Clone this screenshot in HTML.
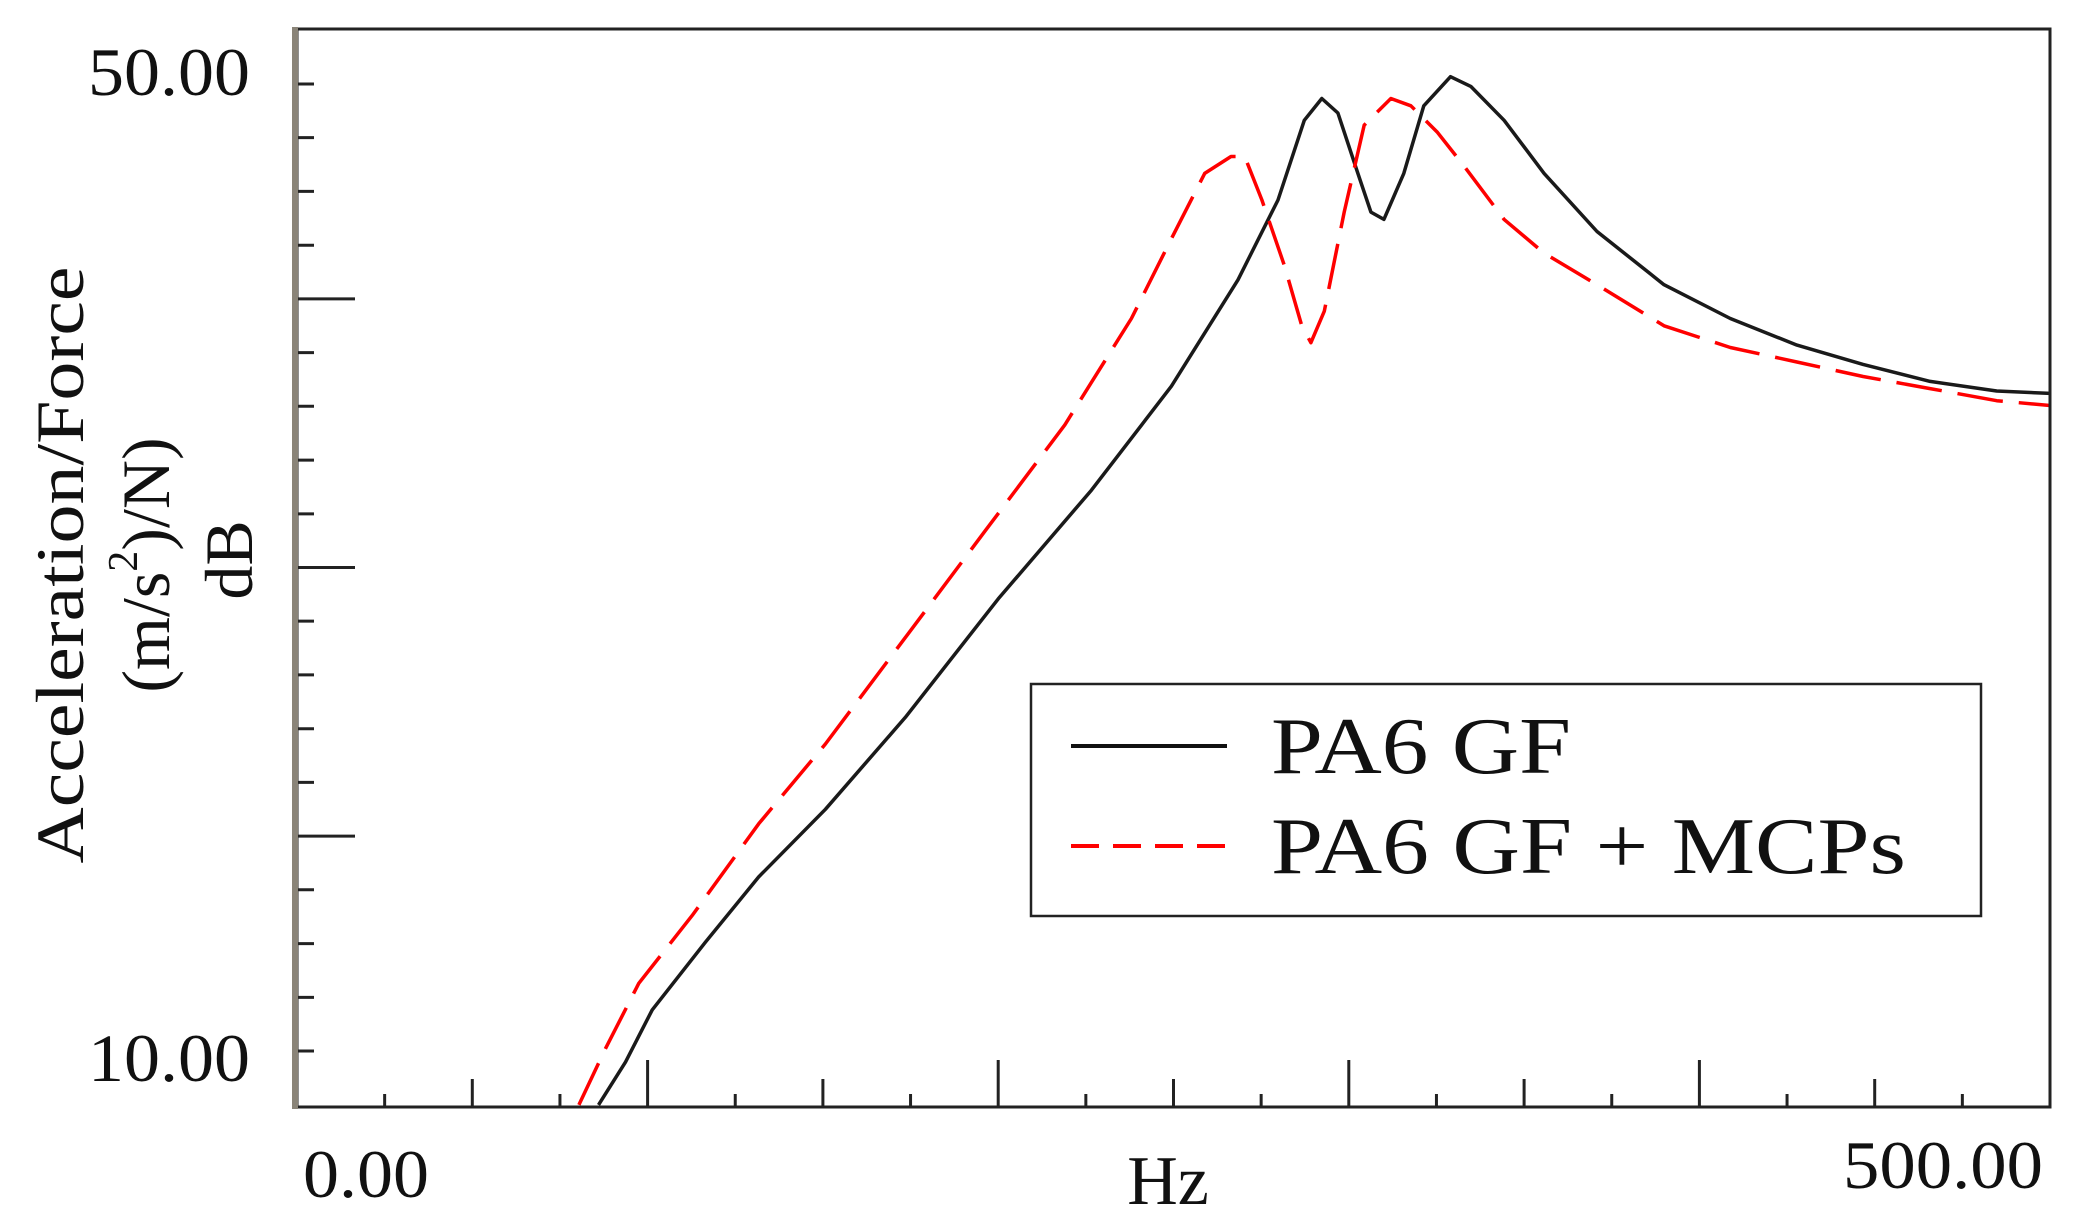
<!DOCTYPE html>
<html><head><meta charset="utf-8"><style>
html,body{margin:0;padding:0;background:#fff;}
svg{display:block;}
text{font-family:"Liberation Serif",serif;fill:#111;}
</style></head><body>
<svg id="chart" width="2076" height="1228" viewBox="0 0 2076 1228" xmlns="http://www.w3.org/2000/svg">
<defs><clipPath id="plotclip"><rect x="297" y="29" width="1753" height="1078"/></clipPath></defs>
<rect x="0" y="0" width="2076" height="1228" fill="#fff"/>
<g id="ticks"></g>
<g id="series" clip-path="url(#plotclip)"></g>
<rect x="297" y="29" width="1753" height="1078" fill="none" stroke="#222" stroke-width="3"/>
<line x1="295" y1="27" x2="295" y2="1109" stroke="#8a8478" stroke-width="6"/>
<g>
<text x="250" y="95" font-size="68" text-anchor="end" textLength="162" lengthAdjust="spacingAndGlyphs">50.00</text>
<text x="250" y="1081" font-size="68" text-anchor="end" textLength="162" lengthAdjust="spacingAndGlyphs">10.00</text>
</g>
<g>
<text x="303" y="1197" font-size="68" textLength="126" lengthAdjust="spacingAndGlyphs">0.00</text>
<text x="2043" y="1188" font-size="68" text-anchor="end" textLength="200" lengthAdjust="spacingAndGlyphs">500.00</text>
</g>
<text x="1168" y="1204" font-size="70" text-anchor="middle">Hz</text>
<g>
<text transform="translate(60,565) rotate(-90)" font-size="68" text-anchor="middle" dominant-baseline="central" textLength="597" lengthAdjust="spacingAndGlyphs">Acceleration/Force</text>
<text transform="translate(146,565) rotate(-90)" font-size="68" text-anchor="middle" dominant-baseline="central">(m/s<tspan font-size="42" dy="-22">2</tspan><tspan dy="22">)/N)</tspan></text>
<text transform="translate(229,560) rotate(-90)" font-size="68" text-anchor="middle" dominant-baseline="central">dB</text>
</g>
<g>
<rect x="1031" y="684" width="950" height="232" fill="#fff" stroke="#222" stroke-width="2.5"/>
<line x1="1071" y1="746" x2="1227" y2="746" stroke="#111" stroke-width="4"/>
<text x="1271" y="773" font-size="80" textLength="300" lengthAdjust="spacingAndGlyphs">PA6 GF</text>
<line x1="1071" y1="846" x2="1227" y2="846" stroke="#f00" stroke-width="4" stroke-dasharray="28,14"/>
<text x="1271" y="873" font-size="80" textLength="635" lengthAdjust="spacingAndGlyphs">PA6 GF + MCPs</text>
</g>
</svg>
<script>
const blackHz = [86,93.7,101.3,116.5,131.7,150.7,173.5,200,226.6,249.4,268.4,279.8,287.3,292.3,296.9,302.6,306.3,310,315.7,321.4,329,334.8,344.3,355.7,370.8,389.9,408.8,427.8,446.7,465.8,484.8,500];
const blackDb = [7.77,9.54,11.7,14.5,17.2,20.0,23.8,28.7,33.2,37.5,41.9,45.2,48.5,49.4,48.8,46.3,44.7,44.4,46.3,49.1,50.3,49.9,48.5,46.3,43.9,41.7,40.3,39.2,38.4,37.7,37.3,37.2];
const redHz = [80.4,88,97.5,112.7,131.7,150.7,173.5,196.2,219,238,249.4,258.9,266.4,270.3,275.2,281.6,286.6,289.2,293,298.7,304.4,312,317.7,325.3,332.9,344.3,355.7,370.8,389.9,408.8,427.8,446.7,465.8,484.8,500];
const redDb = [7.77,10.1,12.8,15.6,19.4,22.7,27.1,31.5,35.9,40.3,43.6,46.3,47.0,47.0,45.2,42.5,40.0,39.3,40.6,44.7,48.3,49.4,49.1,48.0,46.6,44.4,43.0,41.7,40.0,39.1,38.5,37.9,37.4,36.9,36.7];
const xTickHz = [0,25,50,75,100,125,150,175,200,225,250,275,300,325,350,375,400,425,450,475,500];
const yTickDb = [50,47.78,45.56,43.33,41.11,38.89,36.67,34.44,32.22,30,27.78,25.56,23.33,21.11,18.89,16.67,14.44,12.22,10];

const X0=297, X1=2050, Y50=84, Y10=1051;
function xs(hz){return X0+(hz-0)/(500-0)*(X1-X0);}
function ys(db){return Y10-(db-10)/(50-10)*(Y10-Y50);}
const NS='http://www.w3.org/2000/svg';
const tg=document.getElementById('ticks');
xTickHz.forEach((h,i)=>{
  if(i===0||i===xTickHz.length-1) return;
  const len = (h%100===0)?47:((h%50===0)?28:13);
  const l=document.createElementNS(NS,'line');
  l.setAttribute('x1',xs(h));l.setAttribute('x2',xs(h));
  l.setAttribute('y1',1107);l.setAttribute('y2',1107-len);
  l.setAttribute('stroke','#222');l.setAttribute('stroke-width','3');
  
  
  tg.appendChild(l);
});
yTickDb.forEach((d,i)=>{
  const major = (i===4||i===9||i===14);
  const len = major?58:17;
  const l=document.createElementNS(NS,'line');
  l.setAttribute('x1',297);l.setAttribute('x2',297+len);
  l.setAttribute('y1',ys(d));l.setAttribute('y2',ys(d));
  l.setAttribute('stroke','#222');l.setAttribute('stroke-width','3');
  
  
  tg.appendChild(l);
});
const sg=document.getElementById('series');
function path(hz,db){return hz.map((h,i)=>(i?'L':'M')+xs(h).toFixed(1)+','+ys(db[i]).toFixed(1)).join(' ');}
const pb=document.createElementNS(NS,'path');
pb.setAttribute('d',path(blackHz,blackDb));
pb.setAttribute('fill','none');pb.setAttribute('stroke','#1a1a1a');pb.setAttribute('stroke-width','3.5');pb.setAttribute('stroke-linejoin','round');


sg.appendChild(pb);
const pr=document.createElementNS(NS,'path');
pr.setAttribute('d',path(redHz,redDb));
pr.setAttribute('fill','none');pr.setAttribute('stroke','#f00');pr.setAttribute('stroke-width','3.5');pr.setAttribute('stroke-dasharray','46,16');pr.setAttribute('stroke-linejoin','round');


sg.appendChild(pr);
</script>
</body></html>
